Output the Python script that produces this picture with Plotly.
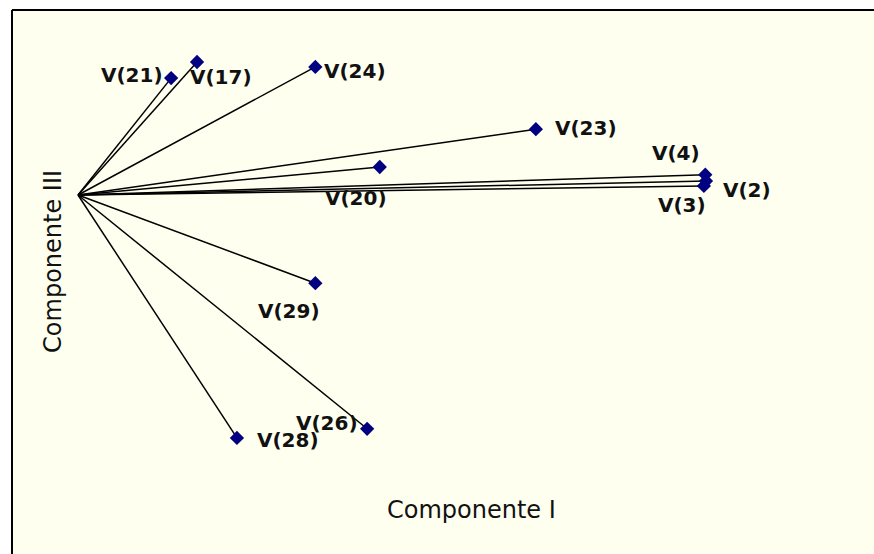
import plotly.graph_objects as go

# loadings (Componente I, Componente III)
labels = ["V(2)", "V(3)", "V(4)", "V(17)", "V(20)", "V(21)", "V(23)", "V(24)", "V(26)", "V(28)", "V(29)"]
comp_1 = [0.897, 0.894, 0.896, 0.170, 0.431, 0.133, 0.654, 0.339, 0.413, 0.227, 0.339]
comp_3 = [0.020, 0.013, 0.029, 0.190, 0.040, 0.167, 0.094, 0.183, -0.334, -0.347, -0.126]

# label placement: (xanchor, xshift, yshift) in px
label_pos = {
    "V(2)": ("left", 15, -9),
    "V(3)": ("center", -22, -19),
    "V(4)": ("center", -29, 22),
    "V(17)": ("left", -9, -15),
    "V(20)": ("center", -24, -31),
    "V(21)": ("right", -6, 3),
    "V(23)": ("left", 17, 1),
    "V(24)": ("left", 7, -4),
    "V(26)": ("right", -7, 6),
    "V(28)": ("left", 18, -2),
    "V(29)": ("center", -26, -28),
}

line_x, line_y = [], []
for x, y in zip(comp_1, comp_3):
    line_x += [0, x, None]
    line_y += [0, y, None]

fig = go.Figure()
fig.add_trace(go.Scatter(x=line_x, y=line_y, mode="lines",
                         line=dict(color="black", width=1.5), hoverinfo="skip"))
fig.add_trace(go.Scatter(x=comp_1, y=comp_3, mode="markers", text=labels,
                         marker=dict(symbol="diamond", size=11, color="#000080")))

label_font = dict(family="DejaVu Sans", size=20, color="#111111", weight="bold")
for name, x, y in zip(labels, comp_1, comp_3):
    anchor, dx, dy = label_pos[name]
    fig.add_annotation(x=x, y=y, text=f"<b>{name}</b>", showarrow=False,
                       xanchor=anchor, yanchor="middle", xshift=dx, yshift=dy,
                       font=label_font)

title_font = dict(family="DejaVu Sans", size=24, color="#111111")
fig.add_annotation(xref="paper", yref="paper", x=0.5336, y=0.081, text="Componente I",
                   xanchor="center", yanchor="middle", showarrow=False, font=title_font)
fig.add_annotation(xref="paper", yref="paper", x=0.0476, y=0.537, text="Componente III",
                   xanchor="center", yanchor="middle", showarrow=False, textangle=-90,
                   font=title_font)

# frame (left and top edges visible)
fig.add_shape(type="line", xref="paper", yref="paper", x0=0, x1=0, y0=0, y1=1,
              line=dict(color="black", width=2))
fig.add_shape(type="line", xref="paper", yref="paper", x0=0, x1=1, y0=1, y1=1,
              line=dict(color="black", width=2))

fig.update_layout(
    width=874, height=554,
    margin=dict(l=12, r=0, t=10, b=0),
    paper_bgcolor="white",
    plot_bgcolor="#FFFFF0",
    showlegend=False,
    xaxis=dict(range=[-0.0943, 1.137], visible=False),
    yaxis=dict(range=[-0.5129, 0.2643], visible=False),
)
fig.write_html("out.html", config=dict(displayModeBar=False),
               post_script="document.body.style.margin='0';document.body.style.overflow='hidden';")
